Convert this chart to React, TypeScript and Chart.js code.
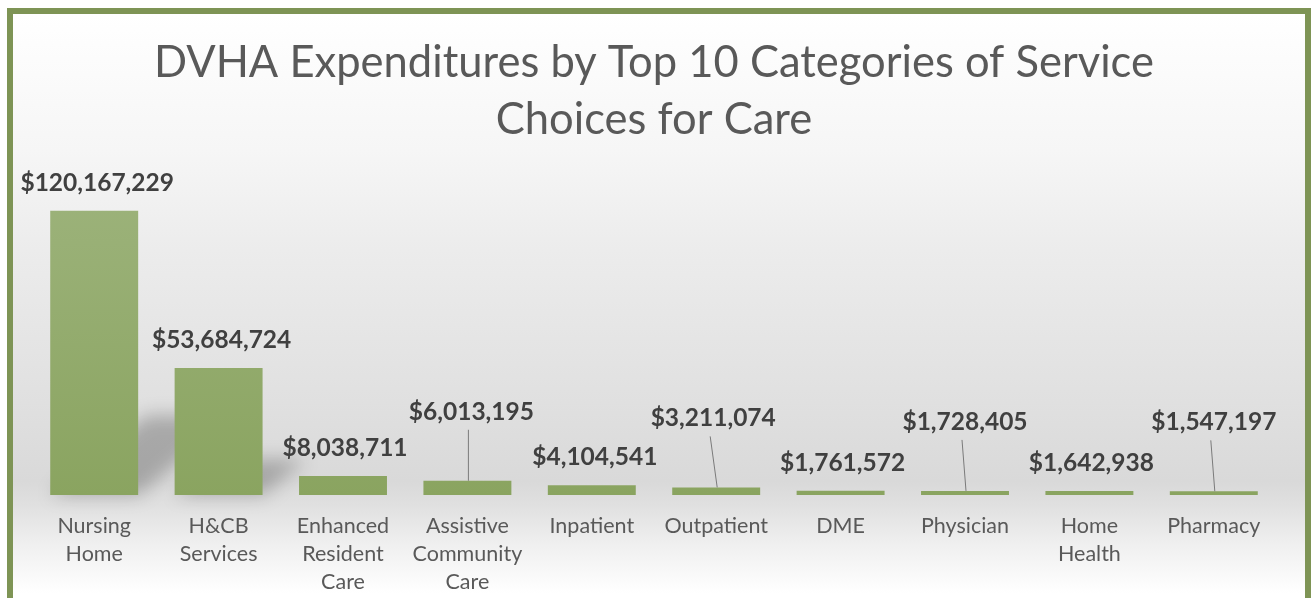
import React, { useEffect, useRef } from 'react';
import { Chart, registerables } from 'chart.js';

Chart.register(...registerables);

// ---- data ----
const categories: string[][] = [
  ['Nursing', 'Home'],
  ['H&CB', 'Services'],
  ['Enhanced', 'Resident', 'Care'],
  ['Assistive', 'Community', 'Care'],
  ['Inpatient'],
  ['Outpatient'],
  ['DME'],
  ['Physician'],
  ['Home', 'Health'],
  ['Pharmacy'],
];
const expenditures: number[] = [
  120167229, 53684724, 8038711, 6013195, 4104541, 3211074, 1761572, 1728405, 1642938, 1547197,
];
const titleLines: string[] = ['DVHA Expenditures by Top 10 Categories of Service', 'Choices for Care'];
const yMin = 0;
const yMax = 141600000;

// ---- label placement config (not data) ----
const leaderLabel: boolean[] = [false, false, false, true, false, true, false, true, false, true];
const labelDx: number[] = [3, 3, 2, 4, 3, -3, 2, 0, 2, 0];

const FONT = 'Lato';

const fmt = (v: number) => '$' + v.toLocaleString('en-US');

const shadowPlugin = {
  id: 'barShadow',
  beforeDatasetsDraw(chart: any) {
    const ctx = chart.ctx;
    const meta = chart.getDatasetMeta(0);
    ctx.save();
    ctx.filter = 'blur(9px)';
    ctx.fillStyle = 'rgba(0,0,0,0.24)';
    meta.data.forEach((bar: any) => {
      const h = bar.base - bar.y;
      if (h < 30) return;
      const L = bar.x - bar.width / 2;
      const R = bar.x + bar.width / 2;
      const dy = h * 0.28;
      const dx = h * 0.34;
      ctx.beginPath();
      ctx.moveTo(L, bar.base);
      ctx.lineTo(R, bar.base);
      ctx.lineTo(R + dx, bar.base - dy);
      ctx.lineTo(L + dx, bar.base - dy);
      ctx.closePath();
      ctx.fill();
    });
    ctx.restore();
  },
};

const valueLabelPlugin = {
  id: 'valueLabels',
  afterDatasetsDraw(chart: any) {
    const ctx = chart.ctx;
    const meta = chart.getDatasetMeta(0);
    ctx.save();
    ctx.font = `bold 24.5px ${FONT}`;
    ctx.fillStyle = '#404040';
    ctx.textAlign = 'center';
    ctx.textBaseline = 'alphabetic';
    meta.data.forEach((bar: any, i: number) => {
      const v = expenditures[i];
      const lx = bar.x + labelDx[i];
      if (leaderLabel[i]) {
        const baseY = bar.y - 61;
        ctx.fillText(fmt(v), lx, baseY);
        ctx.beginPath();
        ctx.strokeStyle = '#7a7a7a';
        ctx.lineWidth = 1;
        ctx.moveTo(lx - 3, baseY + 10);
        ctx.lineTo(bar.x + 1, bar.y);
        ctx.stroke();
      } else {
        ctx.fillText(fmt(v), lx, bar.y - 20);
      }
    });
    ctx.restore();
  },
};

export default function App() {
  const ref = useRef<HTMLCanvasElement | null>(null);

  useEffect(() => {
    const canvas = ref.current;
    if (!canvas) return;
    const ctx = canvas.getContext('2d')!;
    const chart = new Chart(ctx, {
      type: 'bar',
      data: {
        labels: categories,
        datasets: [
          {
            data: expenditures,
            backgroundColor: (c: any) => {
              const area = c.chart.chartArea;
              if (!area) return '#93ab6b';
              const g = c.chart.ctx.createLinearGradient(0, area.top, 0, area.bottom);
              g.addColorStop(0, '#9eb47d');
              g.addColorStop(1, '#8aa460');
              return g;
            },
            borderWidth: 0,
            barPercentage: 0.707,
            categoryPercentage: 1,
          },
        ],
      },
      options: {
        responsive: false,
        maintainAspectRatio: false,
        devicePixelRatio: 1,
        animation: false,
        layout: { padding: { left: 32, right: 36, top: 0, bottom: 7 } },
        plugins: {
          legend: { display: false },
          tooltip: { enabled: false },
          title: {
            display: true,
            text: titleLines,
            color: '#595959',
            font: { family: FONT, size: 43.5, weight: 'normal', lineHeight: 57 / 43.5 },
            padding: { top: 34, bottom: 12 },
          },
        },
        scales: {
          x: {
            grid: { display: false, drawTicks: false },
            border: { display: false },
            ticks: {
              color: '#595959',
              font: { family: FONT, size: 21.5, lineHeight: 28 / 21.5 },
              padding: 17,
              maxRotation: 0,
              minRotation: 0,
              autoSkip: false,
            },
          },
          y: { display: false, min: yMin, max: yMax },
        },
      },
      plugins: [shadowPlugin, valueLabelPlugin],
    } as any);
    return () => chart.destroy();
  }, []);

  return (
    <div style={{ position: 'fixed', left: 0, top: 0, width: 1312, height: 598, overflow: 'hidden', background: '#ffffff' }}>
      <div
        style={{
          position: 'absolute',
          left: 7,
          top: 8,
          width: 1304,
          height: 600,
          boxSizing: 'border-box',
          border: '6px solid #7e9455',
          background:
            'linear-gradient(to bottom, #ffffff 0%, #f6f6f6 23%, #ececec 40%, #e0e0e0 66%, #d9d9d9 79.5%, #e0e0e0 83.5%, #efefef 90%, #ffffff 98.5%)',
        }}
      />
      <canvas ref={ref} width={1312} height={620} style={{ position: 'absolute', left: 0, top: 0 }} />
    </div>
  );
}
